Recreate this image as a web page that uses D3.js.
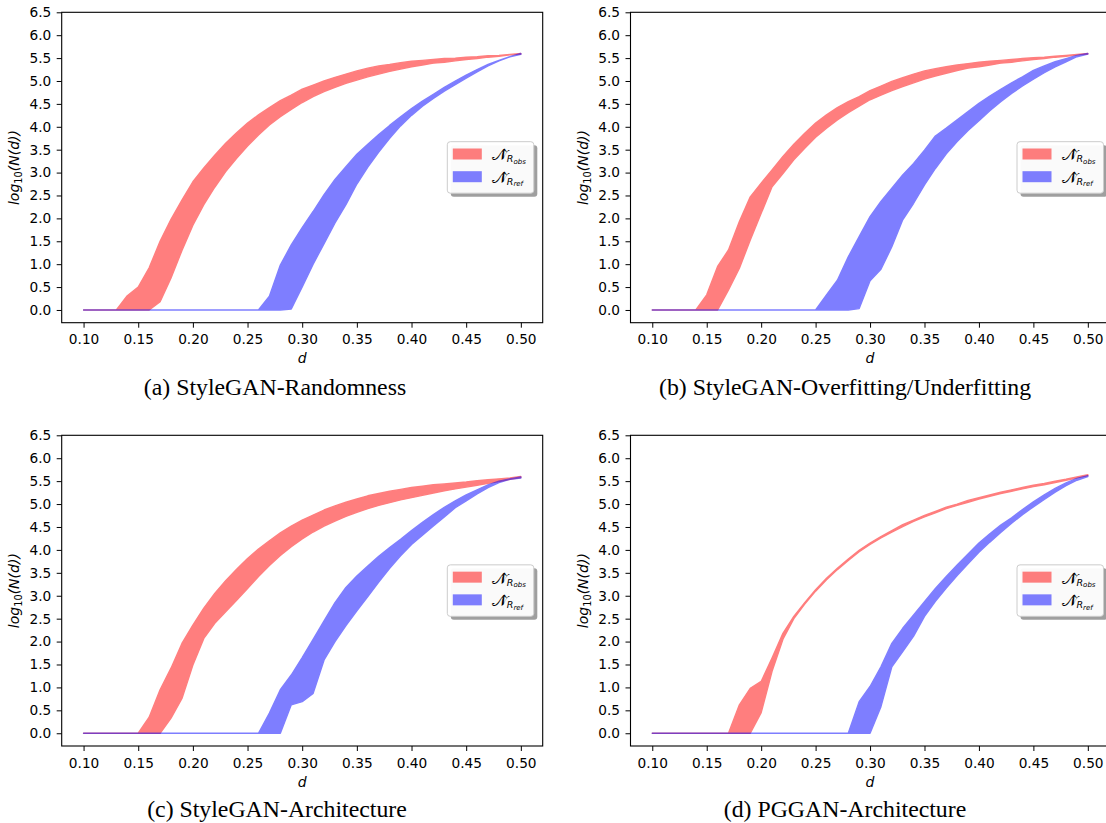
<!DOCTYPE html>
<html><head><meta charset="utf-8">
<script src="https://cdn.jsdelivr.net/npm/d3@7"></script>
<style>body{margin:0;background:#fff}svg{display:block}</style>
</head><body><svg id="c" width="1106" height="823"></svg>
<script>
// distance grid d (x values shared by all panels)
const dValues = [0.10,0.11,0.12,0.13,0.14,0.15,0.16,0.17,0.18,0.19,0.20,0.21,0.22,0.23,0.24,0.25,0.26,0.27,0.28,0.29,0.30,
                 0.31,0.32,0.33,0.34,0.35,0.36,0.37,0.38,0.39,0.40,0.41,0.42,0.43,0.44,0.45,0.46,0.47,0.48,0.49,0.50];
const xTickValues = [0.10,0.15,0.20,0.25,0.30,0.35,0.40,0.45,0.50];
const xTickLabels = ["0.10","0.15","0.20","0.25","0.30","0.35","0.40","0.45","0.50"];
const yTickValues = [0,0.5,1,1.5,2,2.5,3,3.5,4,4.5,5,5.5,6,6.5];
const yTickLabels = ["0.0","0.5","1.0","1.5","2.0","2.5","3.0","3.5","4.0","4.5","5.0","5.5","6.0","6.5"];
const captions = ["(a) StyleGAN-Randomness","(b) StyleGAN-Overfitting/Underfitting","(c) StyleGAN-Architecture","(d) PGGAN-Architecture"];
const legendSubs = ["obs","ref"];

// (a) StyleGAN-Randomness
const aObsUpper = [0,0,0,0,0.31,0.5,0.92,1.5,1.98,2.4,2.8,3.1,3.38,3.64,3.87,4.08,4.26,4.42,4.57,4.69,4.82,4.91,5.0,5.08,5.15,5.22,5.28,5.33,5.36,5.40,5.43,5.45,5.47,5.49,5.50,5.52,5.53,5.55,5.56,5.58,5.60];
const aObsLower = [0,0,0,0,0,0,0,0.18,0.7,1.3,1.85,2.3,2.68,3.02,3.31,3.58,3.82,4.04,4.22,4.38,4.53,4.66,4.77,4.86,4.95,5.02,5.09,5.15,5.21,5.26,5.31,5.35,5.39,5.41,5.44,5.47,5.49,5.52,5.54,5.57,5.59];
const aRefUpper = [0,0,0,0,0,0,0,0,0,0,0,0,0,0,0,0,0,0.3,0.98,1.42,1.8,2.15,2.52,2.85,3.13,3.4,3.62,3.83,4.03,4.22,4.4,4.56,4.71,4.86,5.0,5.13,5.25,5.36,5.45,5.53,5.6];
const aRefLower = [0,0,0,0,0,0,0,0,0,0,0,0,0,0,0,0,0,0,0,0.02,0.5,1.0,1.45,1.9,2.3,2.75,3.12,3.45,3.75,4.02,4.25,4.45,4.62,4.78,4.92,5.06,5.2,5.33,5.44,5.53,5.58];
// (b) StyleGAN-Overfitting/Underfitting
const bObsUpper = [0,0,0,0,0,0.33,0.95,1.31,1.93,2.47,2.77,3.06,3.35,3.62,3.86,4.08,4.26,4.42,4.55,4.66,4.79,4.89,4.99,5.07,5.15,5.22,5.27,5.31,5.35,5.38,5.41,5.43,5.45,5.47,5.49,5.51,5.52,5.54,5.56,5.58,5.60];
const bObsLower = [0,0,0,0,0,0,0,0.44,0.91,1.53,2.11,2.69,2.98,3.28,3.53,3.77,3.97,4.15,4.31,4.45,4.59,4.69,4.79,4.88,4.96,5.04,5.11,5.17,5.23,5.28,5.31,5.35,5.39,5.41,5.44,5.47,5.49,5.52,5.54,5.57,5.59];
const bRefUpper = [0,0,0,0,0,0,0,0,0,0,0,0,0,0,0,0,0.33,0.65,1.16,1.6,2.04,2.37,2.66,2.95,3.2,3.49,3.8,3.97,4.15,4.33,4.51,4.67,4.82,4.96,5.09,5.23,5.33,5.42,5.49,5.56,5.6];
const bRefLower = [0,0,0,0,0,0,0,0,0,0,0,0,0,0,0,0,0,0,0,0.03,0.64,0.89,1.38,1.97,2.33,2.73,3.09,3.41,3.68,3.92,4.13,4.35,4.55,4.73,4.89,5.04,5.18,5.31,5.42,5.53,5.59];
// (c) StyleGAN-Architecture
const cObsUpper = [0,0,0,0,0,0,0.35,0.95,1.42,1.96,2.36,2.73,3.05,3.33,3.58,3.81,4.02,4.2,4.37,4.52,4.65,4.76,4.87,4.96,5.04,5.11,5.18,5.23,5.28,5.32,5.36,5.39,5.42,5.44,5.46,5.48,5.51,5.53,5.55,5.57,5.6];
const cObsLower = [0,0,0,0,0,0,0,0,0.33,0.76,1.49,2.07,2.4,2.65,2.9,3.16,3.42,3.66,3.88,4.07,4.24,4.39,4.52,4.63,4.73,4.82,4.9,4.97,5.03,5.09,5.14,5.19,5.24,5.29,5.33,5.37,5.41,5.45,5.49,5.54,5.58];
const cRefUpper = [0,0,0,0,0,0,0,0,0,0,0,0,0,0,0,0,0,0.44,0.95,1.27,1.65,2.05,2.45,2.85,3.18,3.43,3.65,3.86,4.05,4.23,4.42,4.6,4.77,4.93,5.07,5.2,5.31,5.42,5.5,5.55,5.59];
const cRefLower = [0,0,0,0,0,0,0,0,0,0,0,0,0,0,0,0,0,0,0,0.62,0.69,0.87,1.6,2.0,2.35,2.67,2.98,3.3,3.6,3.87,4.12,4.32,4.52,4.72,4.92,5.07,5.22,5.36,5.47,5.54,5.57];
// (d) PGGAN-Architecture
const dObsUpper = [0,0,0,0,0,0,0,0,0.62,0.98,1.13,1.64,2.18,2.55,2.85,3.13,3.38,3.6,3.8,3.99,4.15,4.29,4.42,4.55,4.65,4.75,4.84,4.93,5.0,5.08,5.14,5.2,5.26,5.31,5.36,5.41,5.45,5.5,5.54,5.59,5.64];
const dObsLower = [0,0,0,0,0,0,0,0,0,0,0.45,1.35,2.05,2.5,2.82,3.1,3.35,3.57,3.77,3.96,4.12,4.26,4.39,4.51,4.62,4.72,4.81,4.9,4.97,5.04,5.11,5.17,5.23,5.28,5.33,5.38,5.42,5.47,5.52,5.57,5.62];
const dRefUpper = [0,0,0,0,0,0,0,0,0,0,0,0,0,0,0,0,0,0,0,0.69,1.02,1.45,1.96,2.29,2.58,2.87,3.16,3.42,3.67,3.91,4.15,4.35,4.54,4.7,4.88,5.05,5.2,5.34,5.46,5.56,5.62];
const dRefLower = [0,0,0,0,0,0,0,0,0,0,0,0,0,0,0,0,0,0,0,0,0,0.58,1.45,1.78,2.12,2.55,2.88,3.17,3.44,3.7,3.95,4.17,4.38,4.58,4.77,4.94,5.1,5.26,5.4,5.52,5.6];

const obsColor = "#ff0000", refColor = "#0000ff";

const svg = d3.select("#c");
svg.append("rect").attr("width",1106).attr("height",823).attr("fill","#fff");

const layouts = [
  {xr:[61.7,542.7], yr:[322.7,12.3], capX:275, capY:395},
  {xr:[630.5,1109.6], yr:[322.7,12.3], capX:845, capY:395},
  {xr:[61.7,542.7], yr:[746,435.3], capX:277, capY:817},
  {xr:[630.5,1109.6], yr:[746,435.3], capX:845, capY:817}
];
const bandSets = [
  [aObsLower,aObsUpper,aRefLower,aRefUpper],
  [bObsLower,bObsUpper,bRefLower,bRefUpper],
  [cObsLower,cObsUpper,cRefLower,cRefUpper],
  [dObsLower,dObsUpper,dRefLower,dRefUpper]
];

layouts.forEach((L,p)=>{
  const [obsLo,obsHi,refLo,refHi] = bandSets[p];
  const x = d3.scaleLinear().domain([0.08,0.52]).range(L.xr);
  const y = d3.scaleLinear().domain([-0.278,6.5]).range(L.yr);
  const g = svg.append("g");

  const area = (lo,hi)=>d3.area().x((d,i)=>x(dValues[i])).y0((d,i)=>y(lo[i])).y1((d,i)=>y(hi[i]))(dValues);
  g.append("path").attr("d",area(obsLo,obsHi)).attr("fill",obsColor).attr("stroke",obsColor)
    .attr("stroke-width",1.4).attr("stroke-linejoin","round").attr("opacity",0.5);
  g.append("path").attr("d",area(refLo,refHi)).attr("fill",refColor).attr("stroke",refColor)
    .attr("stroke-width",1.4).attr("stroke-linejoin","round").attr("opacity",0.5);

  // axes
  const xa = g.append("g").attr("transform",`translate(0,${L.yr[0]})`)
    .call(d3.axisBottom(x).tickValues(xTickValues).tickFormat((d,i)=>xTickLabels[i]).tickSize(5).tickPadding(7).tickSizeOuter(0));
  const ya = g.append("g").attr("transform",`translate(${L.xr[0]},0)`)
    .call(d3.axisLeft(y).tickValues(yTickValues).tickFormat((d,i)=>yTickLabels[i]).tickSize(5).tickPadding(5.5).tickSizeOuter(0));
  [xa,ya].forEach(a=>{
    a.select(".domain").remove();
    a.selectAll("text").attr("font-family","DejaVu Sans").attr("font-size",13.7).attr("fill","#000");
    a.selectAll("line").attr("stroke","#000").attr("stroke-width",1);
  });
  // spines
  g.append("rect").attr("x",L.xr[0]).attr("y",L.yr[1]).attr("width",L.xr[1]-L.xr[0]).attr("height",L.yr[0]-L.yr[1])
    .attr("fill","none").attr("stroke","#000").attr("stroke-width",1.1);

  const cx = (L.xr[0]+L.xr[1])/2, cy=(L.yr[0]+L.yr[1])/2;
  // axis labels
  g.append("text").attr("x",cx).attr("y",L.yr[0]+40.5).attr("text-anchor","middle")
    .attr("font-family","DejaVu Sans").attr("font-style","italic").attr("font-size",14).text("d");
  const yl = g.append("text").attr("transform",`translate(${L.xr[0]-42.5},${cy}) rotate(-90)`).attr("text-anchor","middle")
    .attr("font-family","DejaVu Sans").attr("font-size",14);
  yl.append("tspan").attr("font-style","italic").text("log");
  yl.append("tspan").attr("font-size",9.8).attr("dy",3).text("10");
  yl.append("tspan").attr("font-style","italic").attr("dy",-3).text("(N(d))");

  // legend
  const bw=86.5, bh=51.5;
  const lx = L.xr[0] + (p%2===0 ? 385.6 : 386.5), ly = cy-25.8;
  const lg = g.append("g").attr("transform",`translate(${lx},${ly})`);
  lg.append("rect").attr("x",3.5).attr("y",3.5).attr("width",bw).attr("height",bh).attr("rx",3)
    .attr("fill","#7f7f7f").attr("opacity",0.75);
  lg.append("rect").attr("width",bw).attr("height",bh).attr("rx",3).attr("fill","#fff").attr("fill-opacity",0.95)
    .attr("stroke","#cccccc").attr("stroke-width",1);
  [[obsColor,0],[refColor,22.7]].forEach(([col,dy],k)=>{
    lg.append("rect").attr("x",5.5).attr("y",6.8+dy).attr("width",29).attr("height",11).attr("fill",col).attr("opacity",0.5);
    const t = lg.append("text").attr("x",44.5).attr("y",18.8+dy).attr("font-family","DejaVu Serif, DejaVu Sans, serif");
    t.append("tspan").attr("font-size",16).text("𝒩\u0302");
    t.append("tspan").attr("font-family","DejaVu Sans").attr("font-style","italic").attr("font-size",9.5).attr("dy",2).text("R");
    t.append("tspan").attr("font-family","DejaVu Sans").attr("font-style","italic").attr("font-size",7).attr("dy",1.2).text(legendSubs[k]);
  });

  // caption
  svg.append("text").attr("x",L.capX).attr("y",L.capY).attr("text-anchor","middle")
    .attr("font-family","Liberation Serif").attr("font-size",23.8).attr("fill","#000").text(captions[p]);
});
</script></body></html>
